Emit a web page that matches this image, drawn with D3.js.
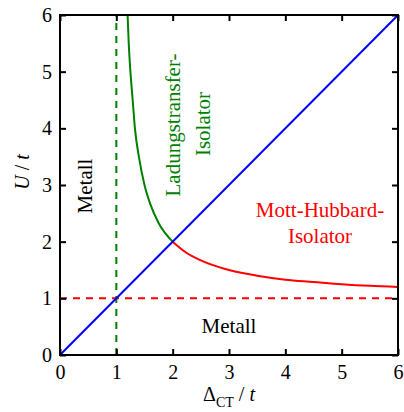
<!DOCTYPE html>
<html>
<head>
<meta charset="utf-8">
<script src="https://cdn.jsdelivr.net/npm/d3@7"></script>
<style>
  html, body { margin: 0; padding: 0; background: #fff; }
</style>
</head>
<body>
<svg id="chart" width="404" height="412"></svg>
<script>
// ---- data ----
const xTicks = [0, 1, 2, 3, 4, 5, 6];
const yTicks = [0, 1, 2, 3, 4, 5, 6];
// charge-transfer boundary (green, left branch)
const ctDelta = [1.2, 1.22, 1.25, 1.29, 1.33, 1.4, 1.5, 1.6, 1.75, 2.0];
const ctU     = [6.0, 5.5, 5.0, 4.5, 4.0, 3.5, 3.0, 2.67, 2.33, 2.0];
// Mott-Hubbard boundary (red, right branch)
const mhDelta = [2.0, 2.25, 2.5, 3.0, 3.5, 4.0, 4.5, 5.0, 5.5, 6.0];
const mhU     = [2.0, 1.8, 1.67, 1.5, 1.4, 1.33, 1.29, 1.25, 1.22, 1.2];
// diagonal U = Delta (blue)
const diagDelta = [0, 6];
const diagU     = [0, 6];
// dashed limits
const vDashDelta = [1, 1];
const vDashU     = [0, 6];
const hDashDelta = [0, 6];
const hDashU     = [1, 1];

// ---- layout ----
const SERIF = "'Liberation Serif'";
const svg = d3.select("#chart");
const L = 60, R = 398, T = 15, B = 355;
const x = d3.scaleLinear().domain([0, 6]).range([L, R]);
const y = d3.scaleLinear().domain([0, 6]).range([B, T]);
const FS = 20;

const zip = (a, b) => a.map((v, i) => [v, b[i]]);
const line = d3.line().x(d => x(d[0])).y(d => y(d[1]));
const smooth = d3.line().x(d => x(d[0])).y(d => y(d[1])).curve(d3.curveMonotoneX);

// clip
svg.append("clipPath").attr("id", "clip").append("rect")
  .attr("x", L).attr("y", T).attr("width", R - L).attr("height", B - T);
const plot = svg.append("g").attr("clip-path", "url(#clip)");

plot.append("path").datum(zip(hDashDelta, hDashU)).attr("d", line)
  .attr("fill", "none").attr("stroke", "#ff0000").attr("stroke-width", 2)
  .attr("stroke-dasharray", "7,6");
plot.append("path").datum(zip(vDashDelta, vDashU)).attr("d", line)
  .attr("fill", "none").attr("stroke", "#008000").attr("stroke-width", 2)
  .attr("stroke-dasharray", "7,6");
plot.append("path").datum(zip(ctDelta, ctU)).attr("d", smooth)
  .attr("fill", "none").attr("stroke", "#008000").attr("stroke-width", 2);
plot.append("path").datum(zip(mhDelta, mhU)).attr("d", smooth)
  .attr("fill", "none").attr("stroke", "#ff0000").attr("stroke-width", 2);
plot.append("path").datum(zip(diagDelta, diagU)).attr("d", line)
  .attr("fill", "none").attr("stroke", "#0000ff").attr("stroke-width", 2);

// axes
const styleAxis = g => {
  g.attr("font-family", null);
  g.select(".domain").remove();
  g.selectAll(".tick line").attr("stroke", "#000").attr("stroke-width", 2);
  g.selectAll(".tick text").attr("font-size", FS).attr("fill", "#000")
    .style("font-family", SERIF);
};
svg.append("g").attr("transform", `translate(0,${B})`)
  .call(d3.axisBottom(x).tickValues(xTicks).tickSize(-6).tickPadding(10).tickFormat(d3.format("d")))
  .call(styleAxis);
svg.append("g").attr("transform", `translate(${L},0)`)
  .call(d3.axisLeft(y).tickValues(yTicks).tickSize(-6).tickPadding(8).tickFormat(d3.format("d")))
  .call(styleAxis);
svg.append("g").attr("transform", `translate(0,${T})`)
  .call(d3.axisTop(x).tickValues(xTicks).tickSize(-6).tickFormat(""))
  .call(styleAxis);
svg.append("g").attr("transform", `translate(${R},0)`)
  .call(d3.axisRight(y).tickValues(yTicks).tickSize(-6).tickFormat(""))
  .call(styleAxis);

// frame
svg.append("rect").attr("x", L).attr("y", T).attr("width", R - L).attr("height", B - T)
  .attr("fill", "none").attr("stroke", "#000").attr("stroke-width", 2);

// axis titles
const yt = svg.append("text").attr("transform", "translate(29,172) rotate(-90)")
  .attr("text-anchor", "middle").attr("font-size", FS).attr("fill", "#000").style("font-family", SERIF);
yt.append("tspan").attr("font-style", "italic").text("U");
yt.append("tspan").text(" / ");
yt.append("tspan").attr("font-style", "italic").text("t");

const xt = svg.append("text").attr("x", 229).attr("y", 401)
  .attr("text-anchor", "middle").attr("font-size", FS).attr("fill", "#000").style("font-family", SERIF);
xt.append("tspan").text("Δ");
xt.append("tspan").attr("font-size", 14).attr("dy", 6).text("CT");
xt.append("tspan").attr("dy", -6).text(" / ");
xt.append("tspan").attr("font-style", "italic").text("t");

// region labels
const lab = (txt, tx, ty, color, rot) => svg.append("text")
  .attr("transform", `translate(${tx},${ty})` + (rot ? " rotate(-90)" : ""))
  .attr("text-anchor", "middle").attr("font-size", 21).attr("fill", color)
  .style("font-family", SERIF).text(txt);

lab("Metall", 92, 186, "#000", true);
lab("Ladungstransfer-", 180, 125, "#008000", true);
lab("Isolator", 210, 124, "#008000", true);
lab("Mott-Hubbard-", 320, 217, "#ff0000", false);
lab("Isolator", 320, 243, "#ff0000", false);
lab("Metall", 229, 333, "#000", false);
</script>
</body>
</html>
